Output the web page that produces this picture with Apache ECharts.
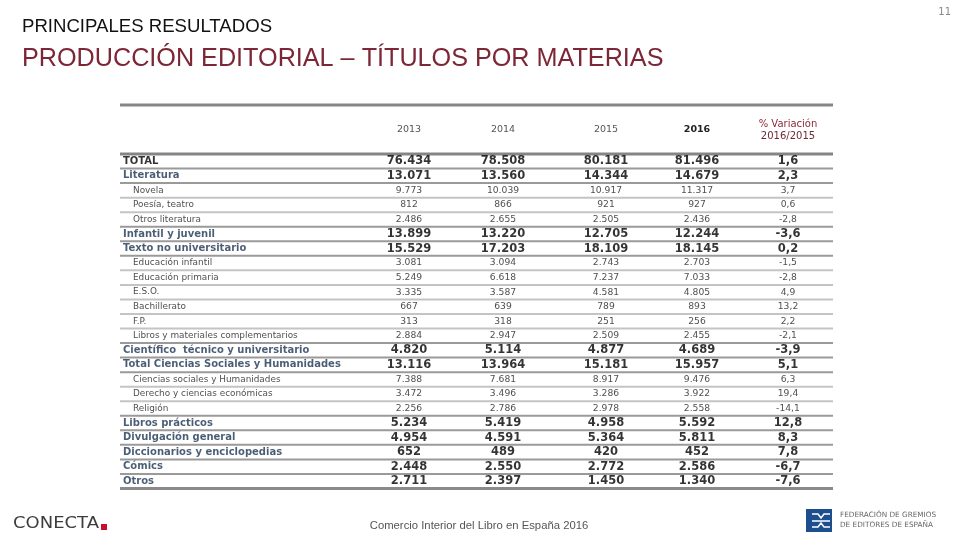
<!DOCTYPE html>
<html><head><meta charset="utf-8">
<script src="https://cdn.jsdelivr.net/npm/echarts@6/dist/echarts.min.js"></script>
<style>html,body{margin:0;padding:0;background:#fff}#c{width:960px;height:540px}</style>
</head><body><div id="c"></div>
<script>
// ---------- DATA ----------
const columnHeaders = ['2013', '2014', '2015', '2016'];
const variationHeader = ['% Variación', '2016/2015'];
const rowLabels = [
  'TOTAL', 'Literatura', 'Novela', 'Poesía, teatro', 'Otros literatura',
  'Infantil y juvenil', 'Texto no universitario', 'Educación infantil', 'Educación primaria',
  'E.S.O.', 'Bachillerato', 'F.P.', 'Libros y materiales complementarios',
  'Científico  técnico y universitario', 'Total Ciencias Sociales y Humanidades',
  'Ciencias sociales y Humanidades', 'Derecho y ciencias económicas', 'Religión',
  'Libros prácticos', 'Divulgación general', 'Diccionarios y enciclopedias', 'Cómics', 'Otros'
];
const rowLevels = [0,1,2,2,2,1,1,2,2,2,2,2,2,1,1,2,2,2,1,1,1,1,1];
const v2013 = [76434,13071,9773,812,2486,13899,15529,3081,5249,3335,667,313,2884,4820,13116,7388,3472,2256,5234,4954,652,2448,2711];
const v2014 = [78508,13560,10039,866,2655,13220,17203,3094,6618,3587,639,318,2947,5114,13964,7681,3496,2786,5419,4591,489,2550,2397];
const v2015 = [80181,14344,10917,921,2505,12705,18109,2743,7237,4581,789,251,2509,4877,15181,8917,3286,2978,4958,5364,420,2772,1450];
const v2016 = [81496,14679,11317,927,2436,12244,18145,2703,7033,4805,893,256,2455,4689,15957,9476,3922,2558,5592,5811,452,2586,1340];
const varPct = [1.6,2.3,3.7,0.6,-2.8,-3.6,0.2,-1.5,-2.8,4.9,13.2,2.2,-2.1,-3.9,5.1,6.3,19.4,-14.1,12.8,8.3,7.8,-6.7,-7.6];

// ---------- LAYOUT ----------
const tableLeft = 120, tableRight = 833;
const colCenters = [409, 503, 606, 697, 788];
const FONT = '"DejaVu Sans", Verdana, sans-serif';
const NAVY = '#1b3452';

function fmtInt(v) { return String(v).replace(/\B(?=(\d{3})+(?!\d))/g, '.'); }
function fmtPct(v) { return v.toFixed(1).replace('.', ','); }

function valueSeries(values, colIdx, fmt) {
  return {
    type: 'scatter', symbolSize: 0, silent: true, z: 5,
    data: values.map((v, i) => {
      const lvl = rowLevels[i];
      return {
        value: [colCenters[colIdx], i, v],
        label: {
          show: true, position: 'inside', align: 'center', verticalAlign: 'middle',
          formatter: () => fmt(v),
          fontFamily: FONT,
          fontSize: lvl < 2 ? 11.5 : 9.2,
          fontWeight: lvl < 2 ? 'bold' : 'normal',
          color: lvl < 2 ? '#000' : '#222'
        }
      };
    })
  };
}

const labelSeries = {
  type: 'scatter', symbolSize: 0, silent: true, z: 5,
  data: rowLabels.map((t, i) => {
    const lvl = rowLevels[i];
    return {
      value: [lvl < 2 ? tableLeft + 3 : tableLeft + 13, i],
      label: {
        show: true, position: 'inside', align: 'left', verticalAlign: 'middle',
        formatter: () => t,
        fontFamily: FONT,
        fontSize: lvl < 2 ? 10 : 8.9,
        fontWeight: lvl < 2 ? 'bold' : 'normal',
        color: lvl === 0 ? '#000' : (lvl === 1 ? NAVY : '#222')
      }
    };
  })
};

const separatorSeries = {
  type: 'custom', silent: true, z: 2,
  data: rowLabels.map((t, i) => [i]),
  encode: { y: 0 },
  renderItem: function (params, api) {
    const i = api.value(0);
    const p = api.coord([tableLeft, i]);
    const q = api.coord([tableRight, i]);
    const h = api.size([0, 1])[1];
    const y = p[1] + h / 2;
    const last = i === rowLabels.length - 1;
    const dark = last || rowLevels[i] < 2 || rowLevels[i + 1] < 2;
    return {
      type: 'line',
      shape: { x1: p[0], y1: y, x2: q[0], y2: y },
      style: { stroke: last ? '#8a8a8a' : (dark ? '#9a9a9a' : '#c4c4c4'), lineWidth: last ? 3 : 2 }
    };
  }
};

const chart = echarts.init(document.getElementById('c'), null, { renderer: 'canvas' });

const graphics = [
  { type: 'text', x: 22, y: 27, style: { text: 'PRINCIPALES RESULTADOS', fontFamily: '"Liberation Sans", Arial, sans-serif', fontSize: 18.6, fill: '#111', verticalAlign: 'middle' } },
  { type: 'text', x: 22, y: 59, style: { text: 'PRODUCCIÓN EDITORIAL – TÍTULOS POR MATERIAS', fontFamily: '"Liberation Sans", Arial, sans-serif', fontSize: 25.2, fill: '#7d2636', verticalAlign: 'middle' } },
  { type: 'text', x: 951, y: 12, style: { text: '11', fontFamily: '"DejaVu Sans", sans-serif', fontSize: 10, fill: '#888', align: 'right', verticalAlign: 'middle' } },
  { type: 'line', shape: { x1: tableLeft, y1: 105, x2: tableRight, y2: 105 }, style: { stroke: '#858585', lineWidth: 3 } },
  { type: 'line', shape: { x1: tableLeft, y1: 154, x2: tableRight, y2: 154 }, style: { stroke: '#858585', lineWidth: 3 } },
  { type: 'text', x: 479, y: 526, style: { text: 'Comercio Interior del Libro en España 2016', fontFamily: '"Liberation Sans", Arial, sans-serif', fontSize: 11.3, fill: '#555', align: 'center', verticalAlign: 'middle' } },
  { type: 'text', x: 13, y: 524, scaleX: 1.16, style: { text: 'CONECTA', fontFamily: '"DejaVu Sans", sans-serif', fontSize: 15.5, fill: '#3d3d3d', verticalAlign: 'middle' } },
  { type: 'rect', shape: { x: 101, y: 524, width: 6, height: 6 }, style: { fill: '#c8102e' } },
  { type: 'rect', shape: { x: 806, y: 509, width: 26, height: 23 }, style: { fill: '#1d4f8f' } },
  { type: 'polyline', shape: { points: [[812, 514], [818, 514], [821, 518], [824, 514], [830, 514]] }, style: { stroke: '#fff', lineWidth: 1.5, fill: null } },
  { type: 'polyline', shape: { points: [[812, 521], [830, 521]] }, style: { stroke: '#fff', lineWidth: 1.5 } },
  { type: 'polyline', shape: { points: [[812, 527], [818, 527], [821, 523], [824, 527], [830, 527]] }, style: { stroke: '#fff', lineWidth: 1.5, fill: null } },
  { type: 'text', x: 840, y: 515, style: { text: 'FEDERACIÓN DE GREMIOS', fontFamily: '"DejaVu Sans", sans-serif', fontSize: 7.3, fill: '#666', verticalAlign: 'middle' } },
  { type: 'text', x: 840, y: 525, style: { text: 'DE EDITORES DE ESPAÑA', fontFamily: '"DejaVu Sans", sans-serif', fontSize: 7.3, fill: '#666', verticalAlign: 'middle' } }
];
columnHeaders.forEach((h, k) => {
  graphics.push({ type: 'text', x: colCenters[k], y: 130, style: {
    text: h, fontFamily: FONT, fontSize: 9.5, fontWeight: k === 3 ? 'bold' : 'normal',
    fill: k === 3 ? '#222' : '#555', align: 'center', verticalAlign: 'middle' } });
});
variationHeader.forEach((h, k) => {
  graphics.push({ type: 'text', x: colCenters[4], y: 124 + k * 12, style: {
    text: h, fontFamily: FONT, fontSize: 10, fill: k === 0 ? '#8b2a3a' : '#6b2a34', align: 'center', verticalAlign: 'middle' } });
});

chart.setOption({
  animation: false,
  grid: { left: 0, right: 0, top: 154, height: 334.5 },
  xAxis: { type: 'value', min: 0, max: 960, show: false },
  yAxis: { type: 'category', inverse: true, data: rowLabels, show: false },
  graphic: graphics,
  series: [
    separatorSeries,
    labelSeries,
    valueSeries(v2013, 0, fmtInt),
    valueSeries(v2014, 1, fmtInt),
    valueSeries(v2015, 2, fmtInt),
    valueSeries(v2016, 3, fmtInt),
    valueSeries(varPct, 4, fmtPct)
  ]
});
</script></body></html>
